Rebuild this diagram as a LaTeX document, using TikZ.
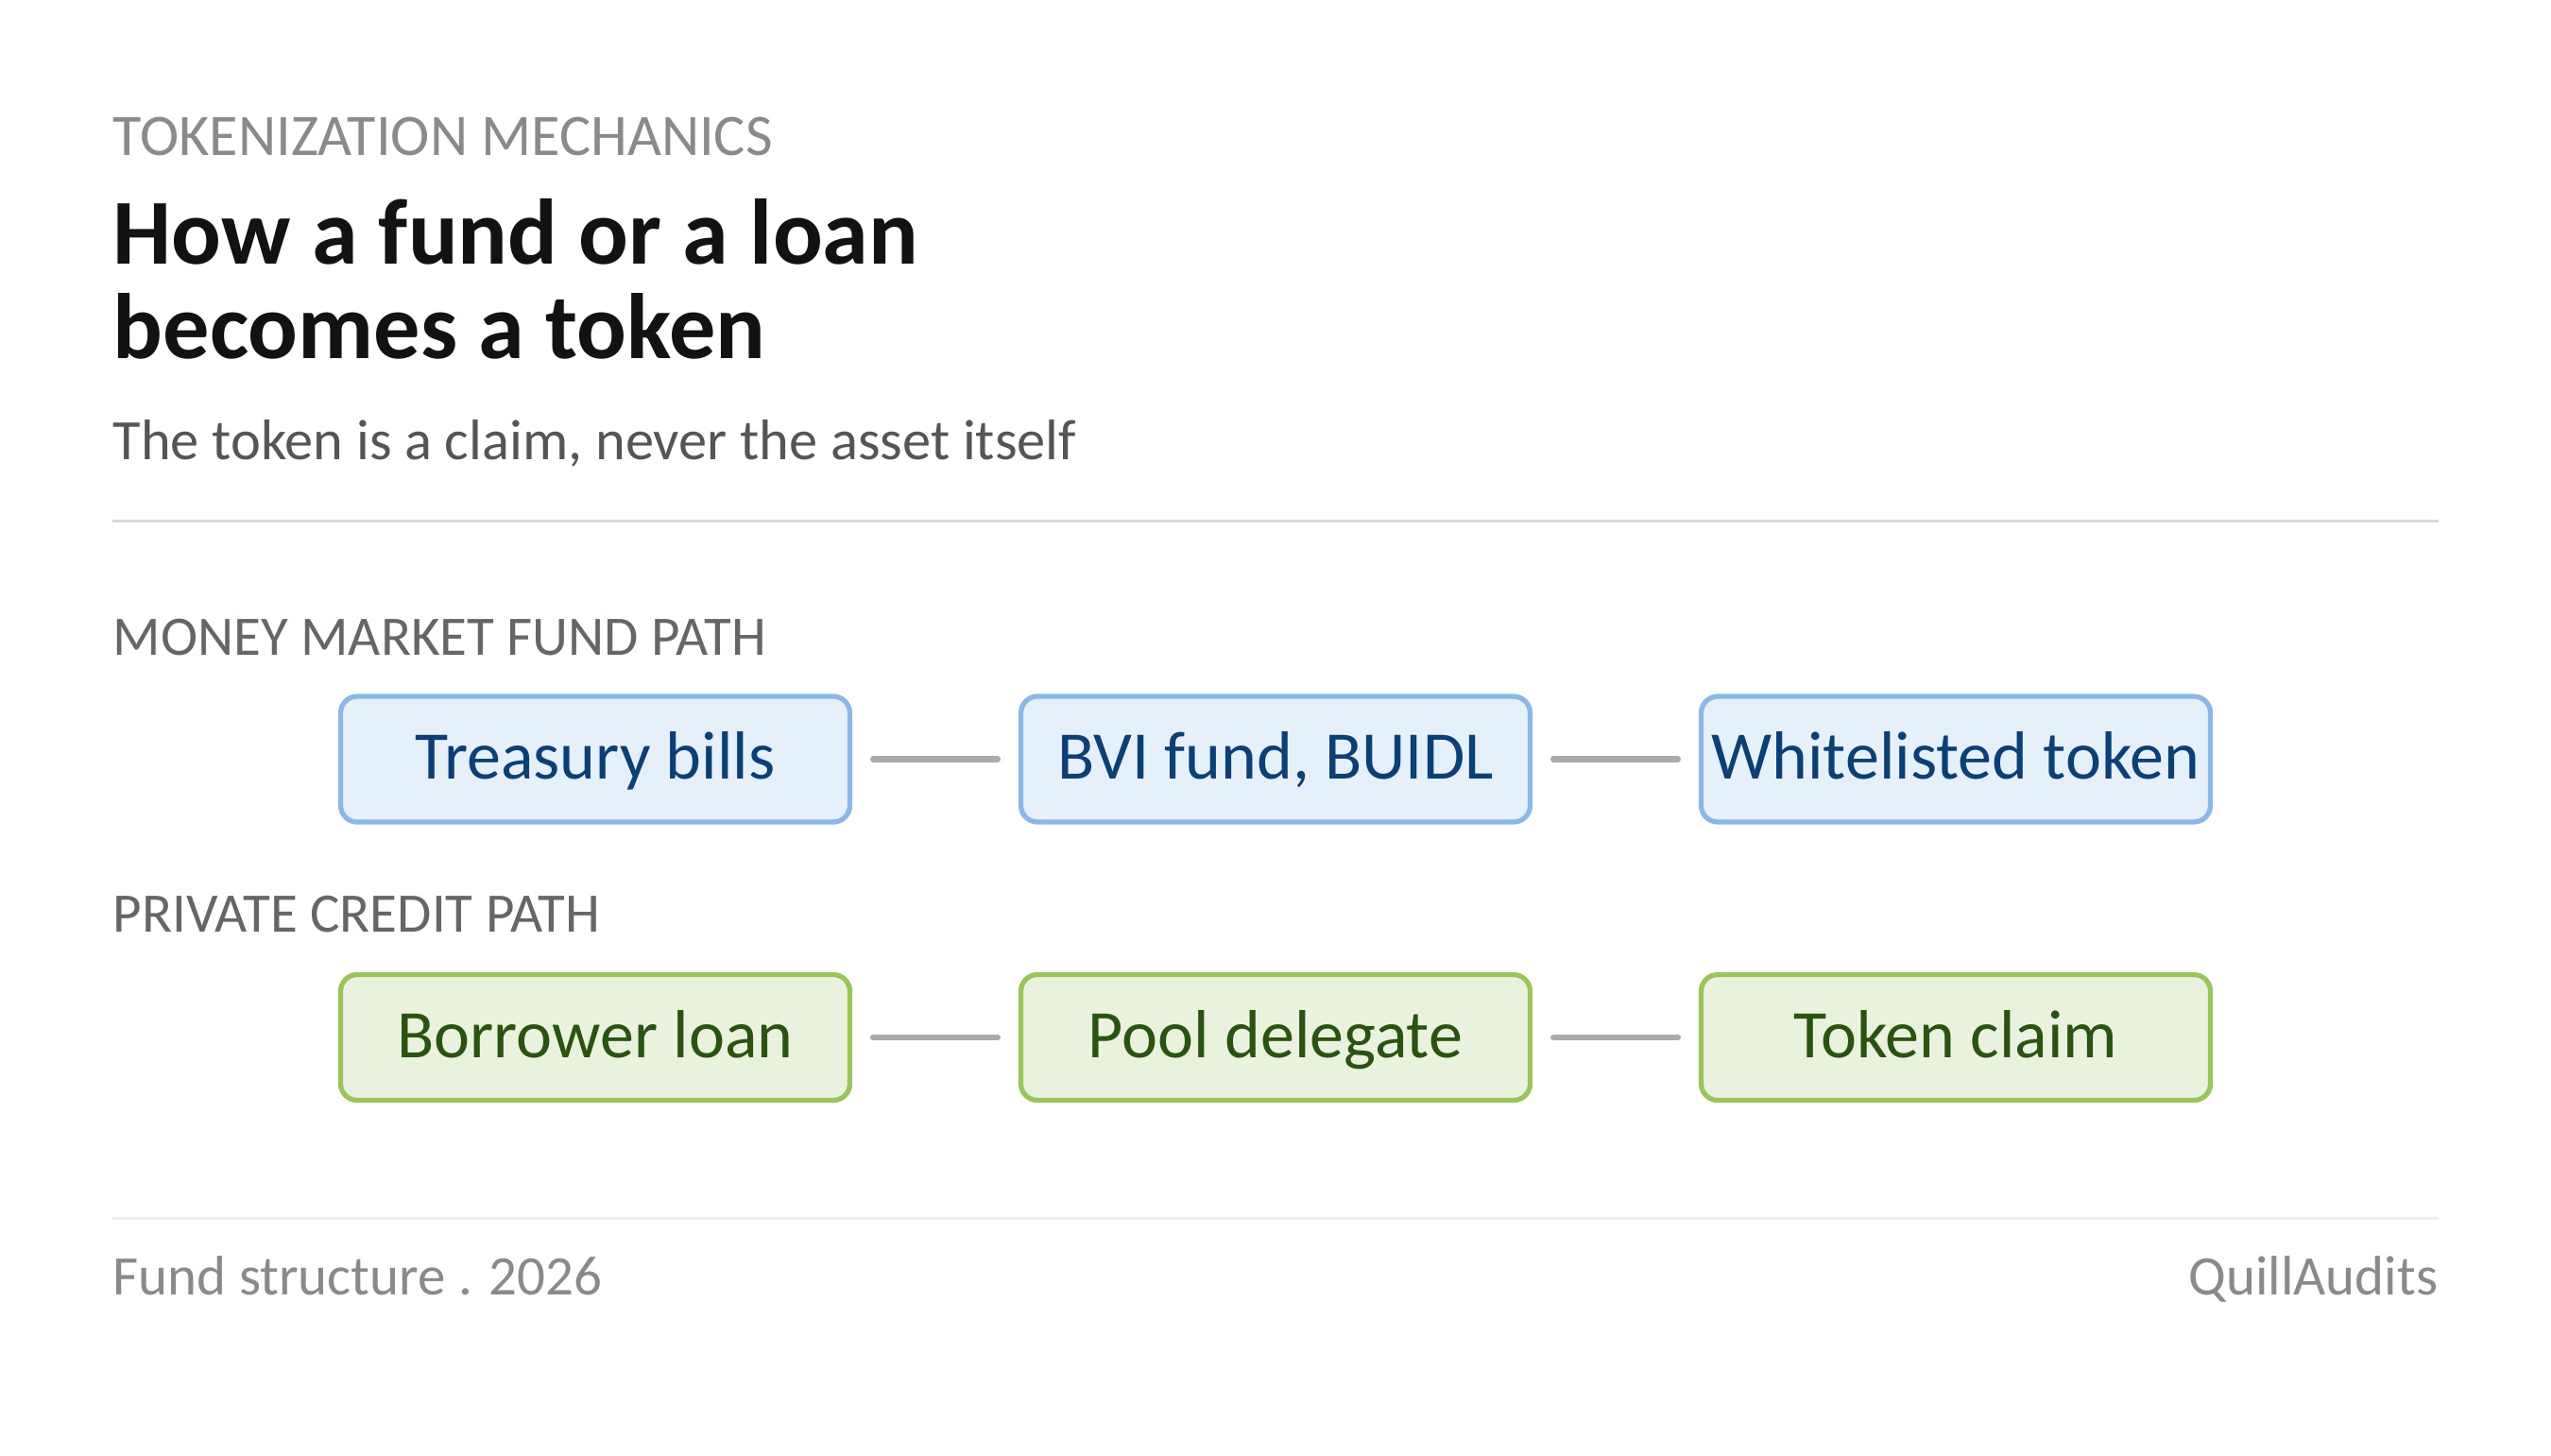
\documentclass[tikz,border=0pt]{standalone}
\usepackage{fontspec}
\setmainfont{Carlito}
\usetikzlibrary{graphs}

\definecolor{inkgray}{HTML}{8A8A8A}
\definecolor{subgray}{HTML}{555555}
\definecolor{pathgray}{HTML}{666666}
\definecolor{rulegray}{HTML}{D9D9D4}
\definecolor{footrule}{HTML}{EEEEEE}
\definecolor{linkgray}{HTML}{AAAAAA}
\definecolor{mmffill}{HTML}{E6F0FB}
\definecolor{mmfline}{HTML}{8BB8E8}
\definecolor{mmftext}{HTML}{0B3F75}
\definecolor{pcfill}{HTML}{E9F2DE}
\definecolor{pcline}{HTML}{9CC45C}
\definecolor{pctext}{HTML}{2A5212}

\begin{document}
\begin{tikzpicture}[font=\fontsize{16.8}{20}\selectfont,text depth=0pt,
  txt/.style={anchor=base west,inner sep=0pt},
  stage/.style={minimum width=5.39cm,minimum height=1.33cm,rounded corners=5pt,
    line width=1.5pt,inner sep=0pt,text height=12pt,font=\fontsize{20.5}{24}\selectfont},
  mmf/.style={stage,draw=mmfline,fill=mmffill,text=mmftext},
  pc/.style={stage,draw=pcline,fill=pcfill,text=pctext},
  link/.style={draw=linkgray,line width=1.8pt,line cap=round,shorten <=0.22cm,shorten >=0.22cm}]
\useasboundingbox (0,0) rectangle (27,-15.4);

\node (eyebrow)  [txt,text=inkgray,font=\fontsize{17.7}{20}\selectfont] at (1.19,-1.64)
                 {TOKENIZATION MECHANICS};
% base of a two-line node sits on its last line
\node (title)    [txt,align=left,font=\fontsize{28}{28.45}\selectfont\bfseries,text=black!93]
                 at (1.19,-3.79) {How a fund or a loan\\becomes a token};
\node (subtitle) [txt,text=subgray,font=\fontsize{17.2}{20}\selectfont] at (1.19,-4.86)
                 {The token is a claim, never the asset itself};
\draw [rulegray,line width=0.85pt] (1.19,-5.51) -- (25.81,-5.51);

\node (mmflabel) [txt,text=pathgray] at (1.19,-6.93) {MONEY MARKET FUND PATH};
\node (pclabel)  [txt,text=pathgray] at (1.19,-9.86) {PRIVATE CREDIT PATH};

\graph [no placement,edges={link}]
{
   tbills[x= 6.30,y=- 8.035,mmf,as=Treasury bills],
      bvi[x=13.50,y=- 8.035,mmf,as={BVI fund, BUIDL}],
   wtoken[x=20.70,y=- 8.035,mmf,as=Whitelisted token],

     loan[x= 6.30,y=-10.98,pc,as=Borrower loan],
 delegate[x=13.50,y=-10.98,pc,as=Pool delegate],
    claim[x=20.70,y=-10.98,pc,as=Token claim],

  tbills -- bvi -- wtoken,
  loan -- delegate -- claim
};

\draw [footrule,line width=0.85pt] (1.19,-12.89) -- (25.81,-12.89);
\node (fundyear) [txt,text=inkgray] at (1.19,-13.70) {Fund structure . 2026};
\node (brand)    [txt,anchor=base east,text=inkgray] at (25.81,-13.70) {QuillAudits};
\end{tikzpicture}
\end{document}
